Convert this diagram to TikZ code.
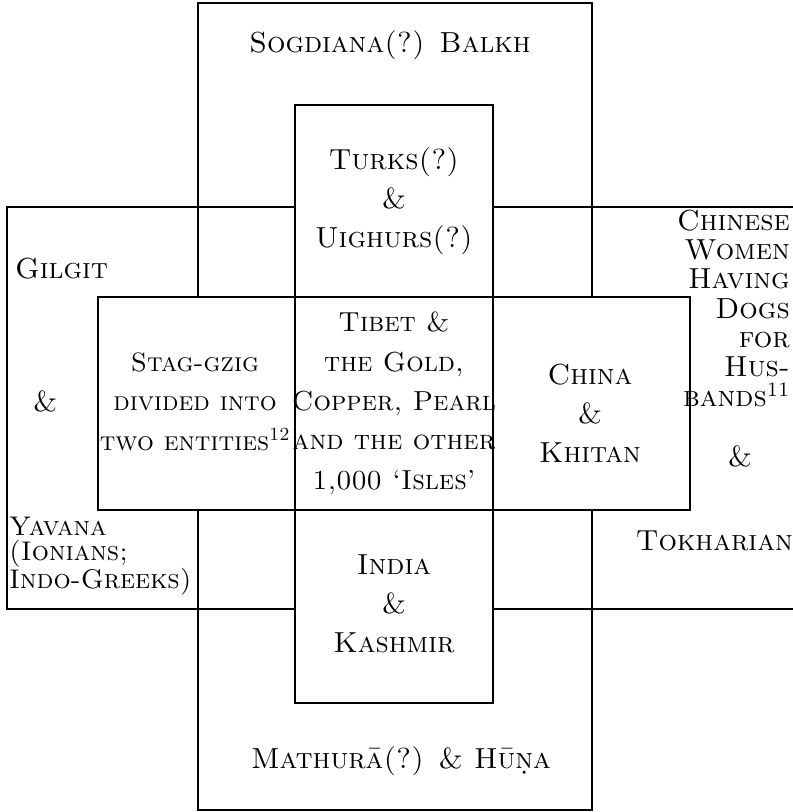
\documentclass[tikz,border=0pt]{standalone}
\usepackage{fontspec}
\tikzset{
  frame/.style={draw=black, line width=1.9pt},
  lbl/.style={font=\fontsize{29}{39}\selectfont\scshape, inner sep=0pt, anchor=base},
  lblc/.style={lbl, align=center},
}
\begin{document}
\begin{tikzpicture}[x=1pt,y=-1pt]
\useasboundingbox (0,0) rectangle (793,812);
% outer regions
\draw[frame] (198,3) rectangle (592,810);
\draw[frame] (7,207) rectangle (805,609);
% inner regions: fill first, then outline
\fill[white] (98,297) rectangle (690,510);
\fill[white] (295,105) rectangle (493,703);
\draw[frame] (98,297) rectangle (690,510);
\draw[frame] (295,105) rectangle (493,703);
% texts (multi-line nodes are anchored at the baseline of their last line)
\node[lbl] (sog) at (390,52) {Sogdiana(?) Balkh};
\node[lblc] (turks) at (394,247) {Turks(?)\\\&\\Uighurs(?)};
\node[lbl, anchor=base west] (gil) at (15,278) {Gilgit};
\node[lbl, anchor=base west] (amp1) at (33,411) {\&};
\node[lbl, anchor=base west, align=left, font=\fontsize{27}{24.5}\selectfont\scshape] (yav) at (9,588) {Yavana\\(Ionians;\\Indo-Greeks)};
\node[lblc, font=\fontsize{26.5}{39.3}\selectfont\scshape] (stag) at (195,450) {Stag-gzig\\divided into\\two entities\textsuperscript{12}};
\node[lblc, font=\fontsize{27.5}{39.3}\selectfont\scshape] (tib) at (394,489) {Tibet \&\\the Gold,\\Copper, Pearl\\and the other\\1,000 `Isles'};
\node[lblc] (chi) at (590,462) {China\\\&\\Khitan};
\node[lbl, anchor=base east, align=right, font=\fontsize{29}{29.3}\selectfont\scshape] (cw) at (790,406) {Chinese\\Women\\Having\\Dogs\\for\\Hus-\\bands\textsuperscript{11}};
\node[lbl] (amp2) at (740,466) {\&};
\node[lbl, anchor=base east] (tok) at (793,550) {Tokharian};
\node[lblc] (ind) at (394,652) {India\\\&\\Kashmir};
\node[lbl] (mat) at (401,768) {Mathurā(?) \& Hūṇa};
\end{tikzpicture}
\end{document}
